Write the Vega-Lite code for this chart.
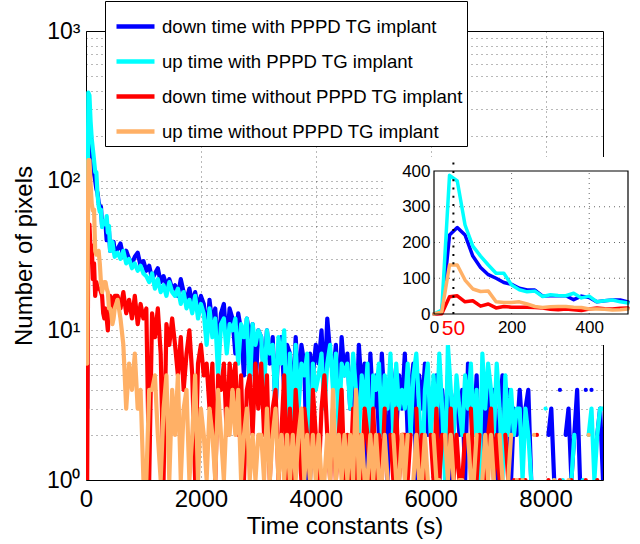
{
"$schema":"https://vega.github.io/schema/vega-lite/v6.json",
"width":517,"height":449,
"autosize":{"type":"none"},
"padding":{"left":86,"top":31,"right":37,"bottom":64},
"config":{"view":{"stroke":"#000","strokeWidth":1},"font":"Liberation Sans",
 "axis":{"labelFont":"Liberation Sans","titleFont":"Liberation Sans","labelColor":"#000","titleColor":"#000","titleFontWeight":"normal","domain":false,"ticks":false}},
"data":{"values":[
{"t":0,"a":0,"b":0,"c":0,"d":0},
{"t":20,"a":3,"b":11,"c":1,"d":6},
{"t":40,"a":221,"b":388,"c":48,"d":137},
{"t":60,"a":242,"b":372,"c":51,"d":137},
{"t":80,"a":221,"b":249,"c":34,"d":95},
{"t":100,"a":162,"b":190,"c":37,"d":70},
{"t":120,"a":130,"b":162,"c":22,"d":63},
{"t":140,"a":110,"b":137,"c":28,"d":64},
{"t":160,"a":100,"b":114,"c":17,"d":34},
{"t":180,"a":88,"b":114,"c":21,"d":32},
{"t":200,"a":83,"b":81,"c":19,"d":32},
{"t":220,"a":72,"b":68,"c":19,"d":34},
{"t":240,"a":67,"b":62,"c":19,"d":28},
{"t":260,"a":67,"b":64,"c":18,"d":21},
{"t":280,"a":50,"b":49,"c":17,"d":18},
{"t":300,"a":51,"b":54,"c":13,"d":20},
{"t":320,"a":51,"b":52,"c":12,"d":21},
{"t":340,"a":51,"b":51,"c":14,"d":21},
{"t":360,"a":40,"b":58,"c":12,"d":19},
{"t":380,"a":50,"b":45,"c":10,"d":18},
{"t":400,"a":46,"b":50,"c":14,"d":14},
{"t":420,"a":34,"b":34,"c":17,"d":14},
{"t":440,"a":37,"b":37,"c":15,"d":13},
{"t":460,"a":39,"b":39,"c":14,"d":11},
{"t":480,"a":39,"b":34,"c":16,"d":12},
{"t":500,"a":34,"b":31,"c":17,"d":14},
{"t":550,"a":35,"b":33,"c":17,"d":16},
{"t":600,"a":38,"b":30,"c":14,"d":12},
{"t":650,"a":31,"b":34,"c":18,"d":8},
{"t":700,"a":34,"b":28,"c":13,"d":3},
{"t":750,"a":30,"b":30,"c":16,"d":6},
{"t":800,"a":28,"b":26,"c":12,"d":4},
{"t":850,"a":31,"b":28,"c":17,"d":7},
{"t":900,"a":33,"b":25,"c":11,"d":3},
{"t":950,"a":27,"b":27,"c":15,"d":4},
{"t":1000,"a":29,"b":24,"c":12,"d":1},
{"t":1050,"a":25,"b":23,"c":14,"d":1},
{"t":1100,"a":27,"b":21,"c":1,"d":4},
{"t":1150,"a":22,"b":24,"c":13,"d":4},
{"t":1200,"a":24,"b":19,"c":9,"d":5},
{"t":1250,"a":26,"b":22,"c":14,"d":2},
{"t":1300,"a":21,"b":18,"c":7,"d":1},
{"t":1350,"a":23,"b":20,"c":1,"d":3},
{"t":1400,"a":20,"b":17,"c":11,"d":5},
{"t":1450,"a":22,"b":21,"c":8,"d":1},
{"t":1500,"a":19,"b":18,"c":12,"d":4},
{"t":1550,"a":20,"b":17,"c":8,"d":2},
{"t":1600,"a":17,"b":19,"c":5,"d":5},
{"t":1650,"a":22,"b":15,"c":9,"d":1},
{"t":1700,"a":18,"b":18,"c":4,"d":3},
{"t":1750,"a":16,"b":14,"c":7,"d":4},
{"t":1800,"a":19,"b":16,"c":10,"d":1},
{"t":1850,"a":15,"b":13,"c":5,"d":2},
{"t":1900,"a":18,"b":17,"c":1,"d":5},
{"t":1950,"a":14,"b":12,"c":6,"d":1},
{"t":2000,"a":17,"b":15,"c":8,"d":3},
{"t":2050,"a":15,"b":13,"c":5,"d":2},
{"t":2100,"a":9,"b":8,"c":6,"d":1},
{"t":2150,"a":16,"b":14,"c":3,"d":3},
{"t":2200,"a":11,"b":9,"c":6,"d":2},
{"t":2250,"a":14,"b":12,"c":1,"d":1},
{"t":2300,"a":7,"b":5,"c":5,"d":4},
{"t":2350,"a":13,"b":11,"c":4,"d":2},
{"t":2400,"a":15,"b":12,"c":6,"d":1},
{"t":2450,"a":8,"b":7,"c":2,"d":3},
{"t":2500,"a":14,"b":11,"c":6,"d":2},
{"t":2550,"a":12,"b":10,"c":4,"d":4},
{"t":2600,"a":7,"b":12,"c":6,"d":2},
{"t":2650,"a":13,"b":6,"c":2,"d":4},
{"t":2700,"a":10,"b":11,"c":5,"d":1},
{"t":2750,"a":5,"b":9,"c":1,"d":2},
{"t":2800,"a":12,"b":12,"c":4,"d":3},
{"t":2850,"a":9,"b":4,"c":5,"d":1},
{"t":2900,"a":11,"b":11,"c":2,"d":2},
{"t":2950,"a":4,"b":8,"c":6,"d":1},
{"t":3000,"a":10,"b":10,"c":3,"d":2},
{"t":3050,"a":9,"b":9,"c":6,"d":2},
{"t":3100,"a":5,"b":4,"c":2,"d":1},
{"t":3150,"a":10,"b":10,"c":5,"d":3},
{"t":3200,"a":6,"b":7,"c":1,"d":1},
{"t":3250,"a":9,"b":8,"c":3,"d":2},
{"t":3300,"a":3,"b":3,"c":4,"d":3},
{"t":3350,"a":8,"b":9,"c":1,"d":1},
{"t":3400,"a":9,"b":6,"c":2,"d":2},
{"t":3450,"a":4,"b":10,"c":5,"d":1},
{"t":3500,"a":8,"b":2,"c":1,"d":2},
{"t":3550,"a":7,"b":7,"c":3,"d":1},
{"t":3600,"a":3,"b":2,"c":1,"d":2},
{"t":3650,"a":9,"b":8,"c":4,"d":1},
{"t":3700,"a":4,"b":3,"c":2,"d":2},
{"t":3750,"a":8,"b":6,"c":1,"d":3},
{"t":3800,"a":6,"b":5,"c":3,"d":1},
{"t":3850,"a":1,"b":7,"c":2,"d":2},
{"t":3900,"a":7,"b":1,"c":1,"d":1},
{"t":3950,"a":5,"b":6,"c":4,"d":2},
{"t":4000,"a":8,"b":4,"c":2,"d":1},
{"t":4050,"a":6,"b":5,"c":1,"d":2},
{"t":4100,"a":10,"b":7,"c":3,"d":1},
{"t":4150,"a":4,"b":3,"c":5,"d":1},
{"t":4200,"a":12,"b":6,"c":2,"d":2},
{"t":4250,"a":7,"b":8,"c":1,"d":1},
{"t":4300,"a":5,"b":4,"c":3,"d":4},
{"t":4350,"a":8,"b":7,"c":1,"d":1},
{"t":4400,"a":3,"b":2,"c":2,"d":2},
{"t":4450,"a":9,"b":6,"c":4,"d":1},
{"t":4500,"a":5,"b":5,"c":1,"d":2},
{"t":4550,"a":7,"b":6,"c":2,"d":1},
{"t":4600,"a":3,"b":3,"c":1,"d":2},
{"t":4650,"a":6,"b":7,"c":3,"d":1},
{"t":4700,"a":2,"b":4,"c":1,"d":4},
{"t":4750,"a":8,"b":2,"c":2,"d":1},
{"t":4800,"a":4,"b":5,"c":1,"d":2},
{"t":4850,"a":6,"b":3,"c":3,"d":1},
{"t":4900,"a":1,"b":6,"c":2,"d":1},
{"t":4950,"a":7,"b":1,"c":1,"d":2},
{"t":5000,"a":3,"b":5,"c":3,"d":1},
{"t":5050,"a":5,"b":4,"c":1,"d":2},
{"t":5100,"a":2,"b":6,"c":2,"d":1},
{"t":5150,"a":7,"b":2,"c":1,"d":1},
{"t":5200,"a":3,"b":5,"c":3,"d":2},
{"t":5250,"a":1,"b":3,"c":null,"d":1},
{"t":5300,"a":6,"b":7,"c":2,"d":null},
{"t":5350,"a":4,"b":2,"c":1,"d":2},
{"t":5400,"a":2,"b":6,"c":3,"d":1},
{"t":5450,"a":5,"b":3,"c":1,"d":1},
{"t":5500,"a":3,"b":4,"c":2,"d":2},
{"t":5550,"a":7,"b":3,"c":2,"d":1},
{"t":5600,"a":2,"b":6,"c":1,"d":2},
{"t":5650,"a":4,"b":2,"c":2,"d":null},
{"t":5700,"a":6,"b":5,"c":null,"d":1},
{"t":5750,"a":1,"b":7,"c":3,"d":2},
{"t":5800,"a":5,"b":3,"c":1,"d":1},
{"t":5850,"a":3,"b":1,"c":2,"d":1},
{"t":5900,"a":6,"b":4,"c":1,"d":2},
{"t":5950,"a":2,"b":6,"c":null,"d":1},
{"t":6000,"a":4,"b":2,"c":2,"d":null},
{"t":6050,"a":3,"b":5,"c":1,"d":2},
{"t":6100,"a":5,"b":2,"c":3,"d":1},
{"t":6150,"a":1,"b":7,"c":1,"d":1},
{"t":6200,"a":4,"b":3,"c":2,"d":null},
{"t":6250,"a":2,"b":1,"c":null,"d":2},
{"t":6300,"a":5,"b":8,"c":1,"d":1},
{"t":6350,"a":1,"b":4,"c":3,"d":2},
{"t":6400,"a":3,"b":2,"c":1,"d":1},
{"t":6450,"a":4,"b":5,"c":2,"d":null},
{"t":6500,"a":2,"b":3,"c":1,"d":1},
{"t":6550,"a":4,"b":2,"c":1,"d":1},
{"t":6600,"a":1,"b":5,"c":2,"d":null},
{"t":6650,"a":6,"b":3,"c":null,"d":2},
{"t":6700,"a":3,"b":6,"c":3,"d":1},
{"t":6750,"a":2,"b":2,"c":1,"d":1},
{"t":6800,"a":5,"b":4,"c":1,"d":2},
{"t":6850,"a":1,"b":1,"c":2,"d":null},
{"t":6900,"a":3,"b":7,"c":null,"d":1},
{"t":6950,"a":2,"b":3,"c":1,"d":2},
{"t":7000,"a":4,"b":6,"c":2,"d":1},
{"t":7050,"a":2,"b":4,"c":3,"d":2},
{"t":7100,"a":4,"b":2,"c":1,"d":1},
{"t":7150,"a":1,"b":6,"c":2,"d":null},
{"t":7200,"a":3,"b":3,"c":1,"d":2},
{"t":7250,"a":5,"b":1,"c":null,"d":1},
{"t":7300,"a":2,"b":5,"c":2,"d":null},
{"t":7350,"a":4,"b":2,"c":1,"d":1},
{"t":7400,"a":1,"b":4,"c":null,"d":2},
{"t":7450,"a":3,"b":2,"c":1,"d":null},
{"t":7500,"a":2,"b":3,"c":null,"d":1},
{"t":7550,"a":4,"b":3,"c":1,"d":null},
{"t":7600,"a":2,"b":1,"c":null,"d":1},
{"t":7650,"a":3,"b":3,"c":1,"d":null},
{"t":7700,"a":4,"b":2,"c":null,"d":null},
{"t":7750,"a":1,"b":1,"c":null,"d":null},
{"t":7800,"a":null,"b":null,"c":null,"d":2},
{"t":7850,"a":null,"b":null,"c":2,"d":null},
{"t":7900,"a":null,"b":null,"c":null,"d":null},
{"t":7950,"a":null,"b":null,"c":null,"d":null},
{"t":8000,"a":null,"b":3,"c":null,"d":null},
{"t":8050,"a":2,"b":null,"c":1,"d":null},
{"t":8100,"a":3,"b":null,"c":null,"d":null},
{"t":8150,"a":1,"b":1,"c":null,"d":1},
{"t":8200,"a":null,"b":null,"c":null,"d":null},
{"t":8250,"a":4,"b":null,"c":1,"d":null},
{"t":8300,"a":null,"b":1,"c":null,"d":null},
{"t":8350,"a":2,"b":null,"c":null,"d":null},
{"t":8400,"a":3,"b":null,"c":null,"d":1},
{"t":8450,"a":1,"b":1,"c":1,"d":null},
{"t":8500,"a":2,"b":2,"c":null,"d":null},
{"t":8550,"a":4,"b":null,"c":null,"d":null},
{"t":8600,"a":1,"b":null,"c":null,"d":null},
{"t":8650,"a":null,"b":1,"c":null,"d":null},
{"t":8700,"a":4,"b":null,"c":1,"d":null},
{"t":8750,"a":null,"b":2,"c":null,"d":2},
{"t":8800,"a":4,"b":3,"c":null,"d":null},
{"t":8850,"a":null,"b":1,"c":null,"d":null},
{"t":8900,"a":2,"b":2,"c":1,"d":null},
{"t":8950,"a":3,"b":3,"c":null,"d":null},
{"t":9000,"a":1,"b":3,"c":null,"d":null}
]},
"layer":[
 {"transform":[{"filter":"datum.t > 0"},{"fold":["a","b","c","d"],"as":["s","v"]}],
  "mark":{"type":"line","strokeWidth":4.2,"clip":true,"strokeJoin":"round","strokeCap":"round"},
  "encoding":{
   "x":{"field":"t","type":"quantitative","scale":{"domain":[0,9000],"nice":false,"zero":false},
     "axis":{"values":[0,2000,4000,6000,8000],"format":"d","labelFontSize":24,"labelPadding":7,"labelFlush":false,"title":"Time constants (s)","titleFontSize":24,"titlePadding":3,"grid":true,"gridColor":"#000","gridDash":[1,4],"gridOpacity":0.55,"zindex":0}},
   "y":{"field":"v","type":"quantitative","scale":{"type":"log","domain":[1,1000],"nice":false},
     "axis":{"values":[1,2,3,4,5,6,7,8,9,10,20,30,40,50,60,70,80,90,100,200,300,400,500,600,700,800,900,1000],"labelExpr":"datum.value == 1 ? '10⁰' : datum.value == 10 ? '10¹' : datum.value == 100 ? '10²' : datum.value == 1000 ? '10³' : ''","labelOverlap":false,"labelFontSize":23,"labelPadding":6,"title":"Number of pixels","titleFontSize":24,"titlePadding":10,"grid":true,"gridColor":"#000","gridDash":[1,4],"gridOpacity":0.55,"zindex":0}},
   "color":{"field":"s","type":"nominal","scale":{"domain":["a","b","c","d"],"range":["#0000ff","#00ffff","#ff0000","#ffb066"]},
     "legend":{"title":null,"orient":"none","legendX":19,"legendY":-30,"symbolType":"stroke","symbolStrokeWidth":4.5,"symbolSize":1444,"labelFontSize":18.6,"labelFont":"Liberation Sans","labelColor":"#000","labelLimit":400,"fillColor":"#fff","strokeColor":"#000","padding":4,"rowPadding":3,"labelOffset":5,"symbolOffset":5,"zindex":1,
      "labelExpr":"datum.label == 'a' ? 'down time with PPPD TG implant' : datum.label == 'b' ? 'up time with PPPD TG implant' : datum.label == 'c' ? 'down time without PPPD TG implant' : 'up time without PPPD TG implant'"}}
  }},
 {"layer":[
  {"data":{"values":[{}]},"mark":{"type":"rect","fill":"#fff","strokeWidth":0},
   "encoding":{"x":{"datum":-124,"type":"quantitative","scale":{"domain":[0,500],"range":[348,542],"nice":false,"zero":false}},"x2":{"datum":531},
     "y":{"datum":-87,"type":"quantitative","scale":{"domain":[0,400],"range":[283,140],"nice":false,"zero":false}},"y2":{"datum":439}}},
  {"data":{"values":[{"g":200},{"g":400}]},"mark":{"type":"rule","stroke":"#000","strokeDash":[1,4],"opacity":0.6},
   "encoding":{"x":{"field":"g","type":"quantitative","scale":{"domain":[0,500],"range":[348,542],"nice":false,"zero":false}},
     "y":{"datum":0,"type":"quantitative","scale":{"domain":[0,400],"range":[283,140],"nice":false,"zero":false}},"y2":{"datum":400}}},
  {"data":{"values":[{"g":100},{"g":200},{"g":300}]},"mark":{"type":"rule","stroke":"#000","strokeDash":[1,4],"opacity":0.6},
   "encoding":{"y":{"field":"g","type":"quantitative","scale":{"domain":[0,400],"range":[283,140],"nice":false,"zero":false}},
     "x":{"datum":0,"type":"quantitative","scale":{"domain":[0,500],"range":[348,542],"nice":false,"zero":false}},"x2":{"datum":500}}},
  {"transform":[{"filter":"datum.t <= 500"},{"fold":["a","b","c","d"],"as":["s","v"]}],
   "mark":{"type":"line","strokeWidth":3.5,"strokeJoin":"round","strokeCap":"round"},
   "encoding":{
    "x":{"field":"t","type":"quantitative","scale":{"domain":[0,500],"range":[348,542],"nice":false,"zero":false},
      "axis":{"orient":"bottom","offset":-166,"values":[0,200,400],"labelFontSize":17,"labelPadding":5,"labelFlush":false,"title":null,"grid":false,"zindex":1}},
    "y":{"field":"v","type":"quantitative","scale":{"domain":[0,400],"range":[283,140],"nice":false,"zero":false},
      "axis":{"orient":"left","offset":-348,"values":[0,100,200,300,400],"labelFontSize":17,"labelPadding":4,"title":null,"grid":false,"zindex":1}},
    "color":{"field":"s","type":"nominal"}}},
  {"data":{"values":[{}]},"mark":{"type":"rule","stroke":"#000","strokeWidth":2,"strokeDash":[2,6.3]},
   "encoding":{"x":{"datum":50,"type":"quantitative","scale":{"domain":[0,500],"range":[348,542],"nice":false,"zero":false}},
     "y":{"datum":0,"type":"quantitative","scale":{"domain":[0,400],"range":[283,140],"nice":false,"zero":false}},"y2":{"datum":440}}},
  {"data":{"values":[{}]},"mark":{"type":"text","text":"50","color":"#ff0000","fontSize":21,"font":"Liberation Sans","baseline":"top","align":"center","dy":4},
   "encoding":{"x":{"datum":50,"type":"quantitative","scale":{"domain":[0,500],"range":[348,542],"nice":false,"zero":false}},
     "y":{"datum":0,"type":"quantitative","scale":{"domain":[0,400],"range":[283,140],"nice":false,"zero":false}}}},
  {"data":{"values":[{}]},"mark":{"type":"rect","fillOpacity":0,"stroke":"#000","strokeWidth":1.2},
   "encoding":{"x":{"datum":0,"type":"quantitative","scale":{"domain":[0,500],"range":[348,542],"nice":false,"zero":false}},"x2":{"datum":500},
     "y":{"datum":0,"type":"quantitative","scale":{"domain":[0,400],"range":[283,140],"nice":false,"zero":false}},"y2":{"datum":400}}}
 ]}
],
"resolve":{"scale":{"x":"independent","y":"independent"},"axis":{"x":"independent","y":"independent"}}
}
